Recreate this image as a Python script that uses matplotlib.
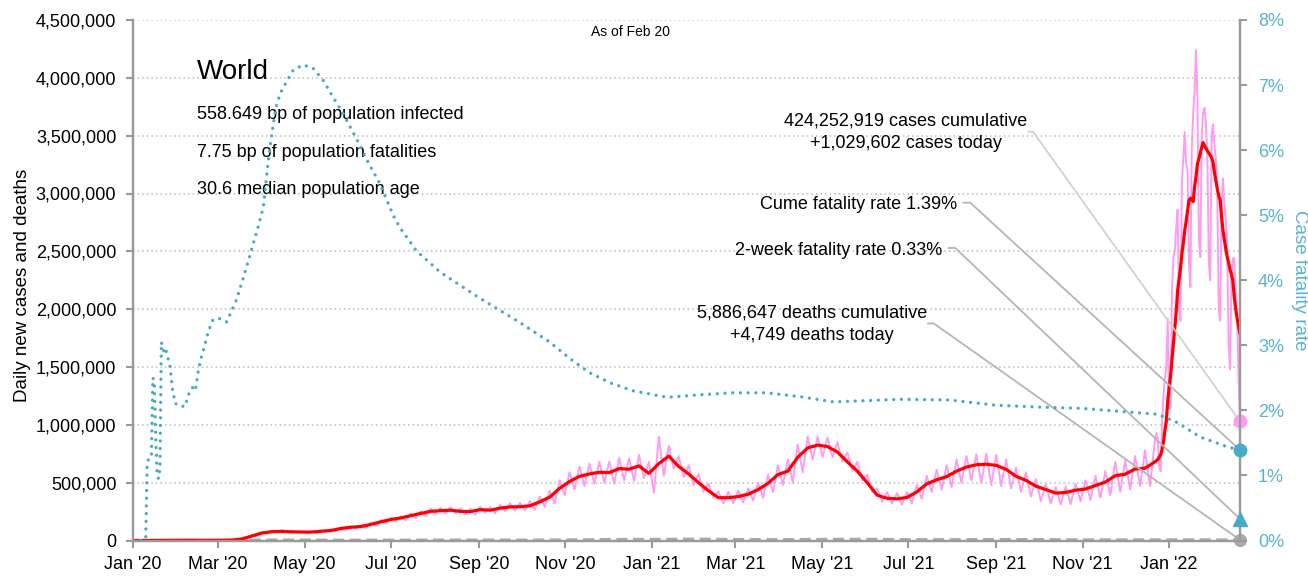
import matplotlib
matplotlib.use("Agg")
import matplotlib.pyplot as plt
import matplotlib.dates as mdates
import matplotlib.ticker as mticker
import numpy as np
import pandas as pd

plt.rcParams["font.family"] = ["Liberation Sans", "DejaVu Sans"]

# ---- data (thousands of cases unless noted) ----
start = pd.Timestamp("2020-01-01")

# weekly 7-day average cases, weeks starting 2020-01-01
red_weekly = [
    0, 0.5, 1, 1.5, 2, 2.5, 2.5, 1.5, 2, 2.5,
    4, 14, 40, 65, 76, 78, 75, 73, 73, 80,
    87, 105, 115, 121, 140, 162, 182, 195, 215, 234,
    252, 258, 262, 252, 250, 267, 262, 280, 290, 292,
    300, 334, 375, 451, 510, 555, 575, 590, 587, 622,
    616, 645, 580, 665, 730, 640, 575, 500, 430, 370,
    370, 380, 400, 440, 494, 570, 600, 720, 800, 825,
    812, 765, 680, 600, 500, 392, 365, 360, 372, 420,
    490, 525, 552, 600, 635, 655, 659, 650, 615, 555,
    520, 470, 440, 410, 415, 435, 445, 475, 505, 560,
    573, 618, 625,
]
# weekly highs / lows of the raw daily cases
pink_hi_weekly = [
    0, 0.5, 1, 2, 3, 3, 3, 2, 2.5, 3,
    5, 16, 45, 72, 85, 92, 84, 80, 80, 88,
    96, 110, 122, 132, 152, 175, 195, 210, 232, 255,
    275, 282, 288, 278, 275, 292, 290, 308, 322, 325,
    340, 380, 430, 520, 590, 640, 665, 680, 680, 715,
    710, 740, 680, 900, 820, 730, 650, 575, 490, 425,
    420, 430, 450, 500, 570, 650, 700, 830, 900, 900,
    890, 850, 760, 680, 570, 450, 420, 410, 420, 480,
    560, 610, 650, 700, 730, 745, 750, 740, 700, 630,
    590, 530, 490, 460, 465, 490, 520, 560, 600, 680,
    690, 730, 780,
]
pink_lo_weekly = [
    0, 0.5, 1, 1.5, 2, 2, 2, 1.5, 2, 2.5,
    4, 12, 35, 60, 70, 72, 70, 66, 66, 74,
    80, 92, 102, 110, 128, 150, 165, 175, 192, 212,
    228, 232, 235, 225, 222, 240, 235, 252, 258, 260,
    265, 290, 320, 390, 440, 470, 490, 500, 490, 520,
    515, 540, 413, 560, 620, 550, 480, 420, 370, 320,
    320, 330, 345, 370, 420, 480, 500, 590, 700, 720,
    720, 680, 600, 520, 420, 335, 320, 310, 320, 360,
    420, 440, 460, 500, 520, 500, 480, 470, 450, 420,
    380, 340, 320, 310, 315, 340, 350, 370, 390, 420,
    440, 470, 470,
]
# daily values, 2021-12-22 .. 2022-02-20
red_daily = [
    680, 690, 700, 720, 740, 785, 850, 950, 1030, 1200,
    1330, 1420, 1560, 1700, 1850, 1980, 2160, 2260, 2350, 2480,
    2570, 2680, 2760, 2850, 2940, 2960, 2950, 2930, 3060, 3150,
    3260, 3300, 3350, 3400, 3440, 3410, 3390, 3370, 3350, 3330,
    3310, 3270, 3180, 3110, 3040, 2980, 2940, 2800, 2680, 2600,
    2520, 2450, 2400, 2340, 2300, 2240, 2100, 2000, 1920, 1850, 1790,
]
pink_daily = [
    870, 930, 880, 640, 600, 1000, 1250, 1400, 1500, 1920,
    1140, 1150, 2150, 2450, 2500, 2700, 2860, 2000, 1900, 3100,
    3300, 3530, 3260, 3200, 2400, 2190, 3400, 3700, 3900, 4240,
    3790, 2600, 2450, 3500, 3700, 3740, 3600, 3300, 2400, 2250,
    3500, 3600, 3400, 3300, 3000, 2000, 1900, 2900, 3130, 2900,
    2770, 2500, 1700, 1480, 2300, 2440, 2440, 2100, 1900, 1400, 1029.602,
]
daily_start = "2021-12-22"
end_date = "2022-02-20"

# cumulative case fatality rate (%), by day since 2020-01-01
cfr_days = [
    0, 8, 9, 10, 11, 12, 13, 14, 15, 16, 17, 18, 19, 20, 21, 22, 23, 24, 26, 28,
    30, 33, 36, 38, 40, 42, 44, 46, 48, 50, 53, 56, 59, 63, 66, 70, 73, 78, 83, 88,
    92, 95, 97, 99, 101, 104, 107, 113, 120, 127, 134, 141, 148, 158, 165, 174, 184, 188, 200, 217,
    245, 273, 294, 308, 322, 337, 353, 377, 400, 423, 447, 471, 494, 518, 541, 576, 608, 640, 670, 699,
    723, 737, 753, 772, 781,
]
cfr_pct = [
    0, 0, 0.05, 1.2, 1.25, 1.3, 1.3, 2.5, 2.45, 1.6, 1.0, 0.95, 1.1, 3.05, 2.95, 2.9, 2.95, 2.85, 2.7, 2.3,
    2.1, 2.1, 2.05, 2.15, 2.3, 2.35, 2.3, 2.6, 2.8, 2.95, 3.2, 3.38, 3.42, 3.4, 3.36, 3.55, 3.7, 4.05, 4.42, 4.8,
    5.13, 5.75, 6.1, 6.4, 6.67, 6.88, 7.0, 7.23, 7.31, 7.26, 7.08, 6.82, 6.57, 6.16, 5.85, 5.49, 4.98, 4.82, 4.45, 4.12,
    3.72, 3.35, 3.05, 2.8, 2.58, 2.42, 2.3, 2.2, 2.24, 2.27, 2.27, 2.21, 2.13, 2.15, 2.17, 2.16, 2.08, 2.05, 2.03, 1.98,
    1.94, 1.81, 1.59, 1.44, 1.39,
]

# daily deaths (thousands), month starts then latest day
deaths_dates = list(pd.date_range("2020-01-01", "2022-02-01", freq="MS")) + [pd.Timestamp(end_date)]
deaths_k = [0, 0.05, 0.3, 5.5, 5.5, 4.2, 4.8, 5.6, 5.8, 5.3, 6.2, 10.0, 11.5, 13.5, 10.0, 8.5,
            11.5, 12.5, 9.0, 8.4, 10.0, 9.5, 7.2, 7.0, 6.8, 7.5, 4.749]

cases_cumulative = 424252919
cases_today = 1029602
deaths_cumulative = 5886647
deaths_today = 4749
cume_rate = 1.39
twoweek_rate = 0.33
stats = ["558.649 bp of population infected",
         "7.75 bp of population fatalities",
         "30.6 median population age"]

# ---- build series ----
week_dates = start + pd.to_timedelta(7 * np.arange(len(red_weekly)), unit="D")
lo_dates = week_dates + pd.Timedelta(hours=84)
day_dates = pd.date_range(daily_start, end_date, freq="D")

pink_x = np.concatenate([np.column_stack([week_dates.values, lo_dates.values]).ravel(), day_dates.values])
pink_y = np.concatenate([np.column_stack([pink_hi_weekly, pink_lo_weekly]).ravel(), pink_daily]) * 1000
red_x = np.concatenate([week_dates.values, day_dates.values])
red_y = np.array(red_weekly + red_daily) * 1000
cfr_x = (start + pd.to_timedelta(cfr_days, unit="D")).values
end = pd.Timestamp(end_date)

PINK = "#ff9cf2"
TEAL = "#4aabc6"
TEAL_TXT = "#5ab2cd"
AXC = "#9a9a9a"
FS = 13

fig = plt.figure(figsize=(13.08, 5.8), dpi=100)
ax = fig.add_axes([133 / 1308, 39.5 / 580, 1107 / 1308, 520.5 / 580])
ax2 = ax.twinx()

ax.plot(pink_x, pink_y, color=PINK, lw=1.4, zorder=2)
ax.plot(red_x, red_y, color="#ff0000", lw=2.3, zorder=3)
ax.plot(deaths_dates, np.array(deaths_k) * 1000, color="#aaaaaa", lw=2, ls=(0, (4, 2)), zorder=2.5)

ax2.plot(cfr_x, cfr_pct, color=TEAL, lw=2.4, ls=(0, (0.01, 2.3)), dash_capstyle="round", zorder=3)

# end markers
ax.plot([end], [cases_today], "o", color=PINK, ms=9, clip_on=False, zorder=6)
ax.plot([end], [deaths_today], "o", color="#aaaaaa", ms=8.5, clip_on=False, zorder=6)
ax2.plot([end], [cume_rate], "o", color=TEAL, ms=9, clip_on=False, zorder=6)
ax2.plot([end], [twoweek_rate], "^", color=TEAL, ms=10, clip_on=False, zorder=6)

# axes styling
ax.set_xlim(start, end)
ax.set_ylim(0, 4.5e6)
ax.yaxis.set_major_locator(mticker.MultipleLocator(500000))
ax.yaxis.set_major_formatter(mticker.StrMethodFormatter("{x:,.0f}"))
ax.xaxis.set_major_locator(mdates.MonthLocator(bymonth=(1, 3, 5, 7, 9, 11)))
ax.xaxis.set_major_formatter(mdates.DateFormatter("%b '%y"))
ax.grid(axis="y", color="#bbbbbb", ls=(0, (1, 2)), lw=1.1)
ax.set_axisbelow(True)
ax2.set_ylim(0, 8)
ax2.yaxis.set_major_locator(mticker.MultipleLocator(1))
ax2.yaxis.set_major_formatter(mticker.FuncFormatter(lambda v, p: f"{v:.0f}%"))

for a in (ax, ax2):
    a.spines["top"].set_visible(False)
    for s in ("left", "right", "bottom"):
        a.spines[s].set_color(AXC)
        a.spines[s].set_linewidth(1.6)
ax.tick_params(axis="both", colors=AXC, labelcolor="black", labelsize=FS, length=5, width=1.5)
ax.tick_params(axis="y", pad=7)
ax.tick_params(axis="x", pad=6)
ax2.tick_params(axis="y", colors=AXC, labelcolor=TEAL_TXT, labelsize=FS, length=5, width=1.5, pad=8)

ax.set_ylabel("Daily new cases and deaths", fontsize=13.5, va="center")
ax.yaxis.set_label_coords(-0.1, 0.49)
ax2.set_ylabel("Case fatality rate", fontsize=13.5, color=TEAL_TXT, rotation=270, va="center")
ax2.yaxis.set_label_coords(1.0535, 0.50)

# texts
ax.text(0.449, 0.977, "As of Feb 20", transform=ax.transAxes, ha="center", va="center", fontsize=10)
ax.text(0.0578, 0.900, "World", transform=ax.transAxes, ha="left", va="center", fontsize=20)
for s, fy in zip(stats, [0.8175, 0.7445, 0.675]):
    ax.text(0.0578, fy, s, transform=ax.transAxes, ha="left", va="center", fontsize=FS)

ax.text(0.6983, 0.7848, f"{cases_cumulative:,} cases cumulative\n+{cases_today:,} cases today",
        transform=ax.transAxes, ha="center", va="center", fontsize=FS, linespacing=1.45)
ax.text(0.7443, 0.646, f"Cume fatality rate {cume_rate:.2f}%", transform=ax.transAxes,
        ha="right", va="center", fontsize=FS)
ax.text(0.7308, 0.558, f"2-week fatality rate {twoweek_rate:.2f}%", transform=ax.transAxes,
        ha="right", va="center", fontsize=FS)
ax.text(0.6135, 0.416, f"{deaths_cumulative:,} deaths cumulative\n+{deaths_today:,} deaths today",
        transform=ax.transAxes, ha="center", va="center", fontsize=FS, linespacing=1.45)

# leader lines
end_num = mdates.date2num(end)
def leader(a, y, start_xy, color, arm):
    a.annotate("", xy=(end_num, y), xycoords="data", xytext=start_xy, textcoords="axes fraction",
               annotation_clip=False,
               arrowprops=dict(arrowstyle="-", color=color, lw=1.3, shrinkA=0, shrinkB=0,
                               connectionstyle=f"arc,angleA=0,angleB=0,armA={arm},armB=0,rad=0"),
               zorder=5)

leader(ax, cases_today, (0.8085, 0.7854), "#d2d2d2", 5)
leader(ax2, cume_rate, (0.750, 0.649), "#b5b5b5", 7)
leader(ax2, twoweek_rate, (0.7365, 0.562), "#b5b5b5", 7)
leader(ax, deaths_today, (0.718, 0.417), "#b5b5b5", 6)

fig.savefig("out.png", dpi=100)
